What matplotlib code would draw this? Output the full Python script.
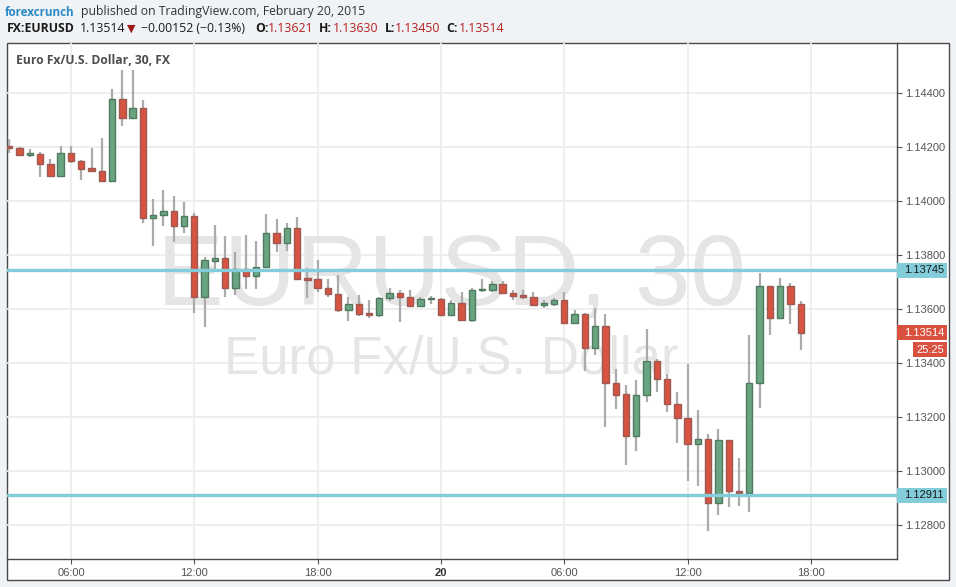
import matplotlib
matplotlib.use("Agg")
import matplotlib.pyplot as plt
from matplotlib.patches import Rectangle
from matplotlib import transforms
import pandas as pd

# ---------------- data ----------------
times = pd.date_range("2015-02-19 03:00", periods=78, freq="30min")

opens = [1.14201, 1.14199, 1.14172, 1.14177, 1.14138, 1.14093, 1.14180, 1.14151, 1.14122, 1.14114,
         1.14077, 1.14380, 1.14310, 1.14347, 1.13940, 1.13951, 1.13965, 1.13909, 1.13947, 1.13646,
         1.13779, 1.13791, 1.13679, 1.13751, 1.13723, 1.13758, 1.13881, 1.13846, 1.13902, 1.13717,
         1.13711, 1.13680, 1.13658, 1.13597, 1.13620, 1.13585, 1.13578, 1.13641, 1.13662, 1.13647,
         1.13612, 1.13637, 1.13639, 1.13579, 1.13625, 1.13560, 1.13671, 1.13671, 1.13694, 1.13660,
         1.13650, 1.13646, 1.13617, 1.13620, 1.13636, 1.13548, 1.13584, 1.13457, 1.13540, 1.13327,
         1.13286, 1.13130, 1.13283, 1.13409, 1.13342, 1.13249, 1.13198, 1.13100, 1.13119, 1.12881,
         1.13115, 1.12927, 1.12919, 1.13326, 1.13686, 1.13567, 1.13686, 1.13621]
highs = [1.14231, 1.14201, 1.14193, 1.14183, 1.14157, 1.14205, 1.14205, 1.14152, 1.14199, 1.14236,
         1.14416, 1.14486, 1.14486, 1.14375, 1.14009, 1.14042, 1.14021, 1.13996, 1.13956, 1.13793,
         1.13912, 1.13872, 1.13812, 1.13875, 1.13853, 1.13953, 1.13935, 1.13920, 1.13942, 1.13754,
         1.13783, 1.13712, 1.13727, 1.13647, 1.13653, 1.13634, 1.13647, 1.13678, 1.13670, 1.13672,
         1.13647, 1.13650, 1.13643, 1.13634, 1.13665, 1.13680, 1.13712, 1.13706, 1.13705, 1.13672,
         1.13672, 1.13663, 1.13634, 1.13641, 1.13663, 1.13597, 1.13586, 1.13606, 1.13583, 1.13379,
         1.13321, 1.13337, 1.13526, 1.13415, 1.13359, 1.13295, 1.13396, 1.13226, 1.13140, 1.13156,
         1.13116, 1.13048, 1.13504, 1.13733, 1.13688, 1.13715, 1.13696, 1.13630]
lows = [1.14180, 1.14170, 1.14163, 1.14091, 1.14091, 1.14091, 1.14141, 1.14078, 1.14107, 1.14075,
        1.14075, 1.14280, 1.14308, 1.13919, 1.13836, 1.13910, 1.13848, 1.13884, 1.13588, 1.13536,
        1.13737, 1.13647, 1.13653, 1.13674, 1.13674, 1.13756, 1.13814, 1.13817, 1.13709, 1.13641,
        1.13665, 1.13647, 1.13591, 1.13558, 1.13575, 1.13567, 1.13570, 1.13630, 1.13552, 1.13610,
        1.13610, 1.13620, 1.13576, 1.13575, 1.13558, 1.13554, 1.13665, 1.13663, 1.13659, 1.13634,
        1.13637, 1.13612, 1.13604, 1.13613, 1.13546, 1.13546, 1.13373, 1.13431, 1.13165, 1.13231,
        1.13023, 1.13075, 1.13257, 1.13294, 1.13220, 1.13106, 1.12964, 1.12944, 1.12779, 1.12838,
        1.12868, 1.12870, 1.12850, 1.13235, 1.13505, 1.13565, 1.13546, 1.13450]
closes = [1.14198, 1.14172, 1.14175, 1.14140, 1.14093, 1.14180, 1.14149, 1.14120, 1.14114, 1.14077,
          1.14380, 1.14310, 1.14347, 1.13940, 1.13951, 1.13965, 1.13909, 1.13947, 1.13646, 1.13781,
          1.13791, 1.13679, 1.13751, 1.13723, 1.13758, 1.13881, 1.13846, 1.13902, 1.13714, 1.13709,
          1.13679, 1.13657, 1.13599, 1.13621, 1.13584, 1.13579, 1.13643, 1.13660, 1.13644, 1.13612,
          1.13639, 1.13639, 1.13579, 1.13625, 1.13560, 1.13671, 1.13674, 1.13694, 1.13660, 1.13649,
          1.13646, 1.13616, 1.13620, 1.13636, 1.13548, 1.13584, 1.13457, 1.13540, 1.13327, 1.13283,
          1.13130, 1.13283, 1.13409, 1.13341, 1.13248, 1.13196, 1.13100, 1.13119, 1.12881, 1.13115,
          1.12926, 1.12919, 1.13326, 1.13686, 1.13567, 1.13686, 1.13619, 1.13514]

price_ticks = [1.128, 1.130, 1.132, 1.134, 1.136, 1.138, 1.140, 1.142, 1.144]
resistance_level = 1.13745
support_level = 1.12911
last_price = 1.13514
countdown = "25:25"
tick_times = pd.date_range("2015-02-19 06:00", "2015-02-20 18:00", freq="6h")

# ---------------- figure ----------------
W, H = 956, 587
BG = "#f0f3f6"
fig = plt.figure(figsize=(W / 100, H / 100), dpi=100, facecolor=BG)

def fx(px):
    return px / W

def fy(py):
    return 1 - py / H

# white chart panel with border
fig.patches.append(Rectangle((fx(6.5), fy(580)), fx(949) - fx(6.5), fy(43) - fy(580),
                             transform=fig.transFigure, facecolor="white",
                             edgecolor="#4a4a4a", lw=1.0, zorder=-5))

ax = fig.add_axes([fx(6.5), fy(559), fx(897) - fx(6.5), fy(43) - fy(559)])
ax.set_zorder(2)
ax.patch.set_alpha(0)

step = pd.Timedelta("30min")
xs = [(t - times[0]) / step for t in times]
tick_pos = [(t - times[0]) / step for t in tick_times]
tick_labels = ["20" if t.hour == 0 else t.strftime("%H:%M") for t in tick_times]

ax.set_xlim(-0.272, 86.37)
ax.set_ylim(1.126752, 1.145863)

# grid
for p in price_ticks:
    ax.axhline(p, color="#ededed", lw=1.3, zorder=0)
for tp in tick_pos:
    ax.axvline(tp, color="#ededed", lw=1.3, zorder=0)

# watermark
ax.text(0.5, 0.492, "EURUSD, 30", transform=ax.transAxes, ha="center", va="baseline",
        fontsize=72, color="#e5e5e5", family="Liberation Sans", zorder=1)
ax.text(0.5, 0.360, "Euro Fx/U.S. Dollar", transform=ax.transAxes, ha="center", va="baseline",
        fontsize=38, color="#e5e5e5", family="Liberation Sans", zorder=1)

# candles
UP, DOWN = "#6aa582", "#d75442"
UP_E, DOWN_E = "#4f7a5f", "#9c5a52"
ax.vlines(xs, lows, highs, color="#ababab", lw=1.6, zorder=2)
min_h = 1.4 / 27000
bottoms = [min(o, c) for o, c in zip(opens, closes)]
heights = [max(abs(c - o), min_h) for o, c in zip(opens, closes)]
fills = [UP if c > o else DOWN for o, c in zip(opens, closes)]
edges = [UP_E if c > o else DOWN_E for o, c in zip(opens, closes)]
ax.bar(xs, heights, bottom=bottoms, width=0.62, color=fills, edgecolor=edges,
       linewidth=1.0, zorder=3)

# horizontal levels
LEVEL = "#83ccda"
ax.axhline(resistance_level, color=LEVEL, lw=2.4, zorder=4)
ax.axhline(support_level, color=LEVEL, lw=2.4, zorder=4)

# axes styling
for s in ("top", "left"):
    ax.spines[s].set_visible(False)
for s in ("right", "bottom"):
    ax.spines[s].set_color("#4a4a4a")
    ax.spines[s].set_linewidth(1.0)

ax.yaxis.tick_right()
ax.set_yticks(price_ticks)
ax.set_yticklabels([f"{p:.5f}" for p in price_ticks])
ax.set_xticks(tick_pos)
ax.set_xticklabels(tick_labels)
ax.tick_params(axis="y", length=3.5, width=0.8, color="#555555", pad=2,
               labelsize=8, labelcolor="#555555")
ax.tick_params(axis="x", length=3.5, width=0.8, color="#555555", pad=3,
               labelsize=8, labelcolor="#555555")
for lab in ax.get_xticklabels() + ax.get_yticklabels():
    lab.set_family("Liberation Sans")
for lab, txt in zip(ax.get_xticklabels(), tick_labels):
    if txt == "20":
        lab.set_fontweight("bold")
        lab.set_color("#333333")

# price-axis labels
bt = transforms.blended_transform_factory(ax.transAxes, ax.transData)
axw = 897 - 6.5
pxd = 1 / 27000

def axis_box(price, text, fc, tc, x0=897, x1=947, dy=0.0):
    yc = price - dy * pxd
    ax.add_patch(Rectangle(((x0 - 6.5) / axw, yc - 7.5 * pxd), (x1 - x0) / axw, 15 * pxd,
                           transform=bt, facecolor=fc, edgecolor="none", clip_on=False, zorder=5))
    ax.text((x1 - 3 - 6.5) / axw, yc, text, transform=bt, ha="right", va="center",
            fontsize=8, color=tc, family="Liberation Sans", clip_on=False, zorder=6)

axis_box(resistance_level, f"{resistance_level:.5f}", LEVEL, "#1a1a1a")
axis_box(support_level, f"{support_level:.5f}", LEVEL, "#1a1a1a")
axis_box(last_price, f"{last_price:.5f}", "#d9503f", "white")
axis_box(last_price, countdown, "#d9503f", "white", x0=913, dy=17)

# chart title inside panel
fig.text(fx(16), fy(61), "Euro Fx/U.S. Dollar, 30, FX", ha="left", va="center",
         fontsize=8.7, fontweight="bold", color="#4d4d4d", family="Open Sans")

# header
HF = ["Open Sans", "DejaVu Sans"]
fig.text(fx(5), fy(12), "forexcrunch", ha="left", va="center", fontsize=8.4,
         fontweight="bold", color="#2a8bc4", family=HF)
fig.text(fx(81), fy(12), "published on TradingView.com, February 20, 2015", ha="left",
         va="center", fontsize=8.8, color="#333333", family=HF)

RED = "#b8201f"
y2 = fy(29)
pieces = [
    (7, "FX:EURUSD", "#1a1a1a", "bold"),
    (80, f"{last_price:.5f}", "#1a1a1a", "normal"),
    (141, "\u22120.00152 (\u22120.13%)", "#1a1a1a", "normal"),
    (255, "O:", "#1a1a1a", "bold"),
    (268, f"{opens[-1]:.5f}", RED, "normal"),
    (319, "H:", "#1a1a1a", "bold"),
    (333, f"{highs[-1]:.5f}", RED, "normal"),
    (385, "L:", "#1a1a1a", "bold"),
    (395, f"{lows[-1]:.5f}", RED, "normal"),
    (446, "C:", "#1a1a1a", "bold"),
    (459, f"{closes[-1]:.5f}", RED, "normal"),
]
for px, txt, col, wt in pieces:
    fig.text(fx(px), y2, txt, ha="left", va="center", fontsize=8.8, color=col,
             fontweight=wt, family=HF)
fig.text(fx(127), y2, "\u25bc", ha="left", va="center", fontsize=8, color="#a01818",
         family="DejaVu Sans")

fig.savefig("out.png", dpi=100, facecolor=BG)
